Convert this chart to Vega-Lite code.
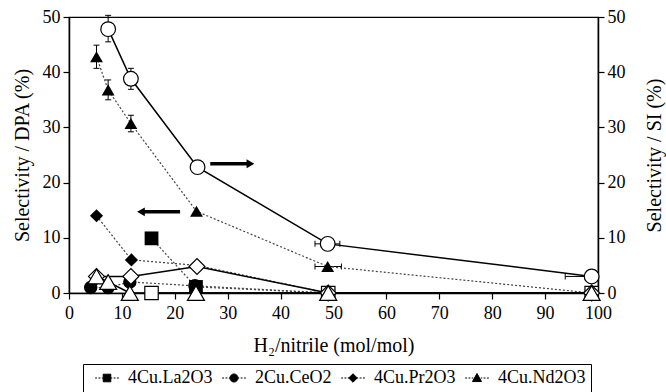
{
  "$schema": "https://vega.github.io/schema/vega-lite/v6.json",
  "width": 529,
  "height": 276,
  "autosize": "none",
  "padding": {"left": 69, "top": 17, "right": 68, "bottom": 99},
  "background": "white",
  "datasets": {
    "pts": [
      {"series": "4Cu.La2O3", "type": "DPA", "x": 15.6, "y": 9.9},
      {"series": "4Cu.La2O3", "type": "DPA", "x": 24.0, "y": 1.1},
      {"series": "4Cu.La2O3", "type": "DPA", "x": 49.0, "y": 0},
      {"series": "2Cu.CeO2", "type": "DPA", "x": 4.1, "y": 1.0},
      {"series": "2Cu.CeO2", "type": "DPA", "x": 7.4, "y": 1.0},
      {"series": "2Cu.CeO2", "type": "DPA", "x": 11.5, "y": 2.0},
      {"series": "2Cu.CeO2", "type": "DPA", "x": 23.8, "y": 1.3},
      {"series": "2Cu.CeO2", "type": "DPA", "x": 49.0, "y": 0},
      {"series": "4Cu.Pr2O3", "type": "DPA", "x": 5.2, "y": 14.0},
      {"series": "4Cu.Pr2O3", "type": "DPA", "x": 11.8, "y": 6.0},
      {"series": "4Cu.Pr2O3", "type": "DPA", "x": 24.2, "y": 5.0},
      {"series": "4Cu.Pr2O3", "type": "DPA", "x": 49.0, "y": 0},
      {"series": "4Cu.Nd2O3", "type": "DPA", "x": 5.2, "y": 42.8},
      {"series": "4Cu.Nd2O3", "type": "DPA", "x": 7.4, "y": 36.8},
      {"series": "4Cu.Nd2O3", "type": "DPA", "x": 11.7, "y": 30.7},
      {"series": "4Cu.Nd2O3", "type": "DPA", "x": 24.1, "y": 14.8},
      {"series": "4Cu.Nd2O3", "type": "DPA", "x": 48.9, "y": 4.8},
      {"series": "4Cu.Nd2O3", "type": "DPA", "x": 98.8, "y": 0},
      {"series": "4Cu.La2O3", "type": "SI", "x": 15.6, "y": 0},
      {"series": "4Cu.La2O3", "type": "SI", "x": 49.0, "y": 0},
      {"series": "4Cu.La2O3", "type": "SI", "x": 98.8, "y": 0},
      {"series": "2Cu.CeO2", "type": "SI", "x": 7.4, "y": 47.8},
      {"series": "2Cu.CeO2", "type": "SI", "x": 11.7, "y": 38.8},
      {"series": "2Cu.CeO2", "type": "SI", "x": 24.3, "y": 22.8},
      {"series": "2Cu.CeO2", "type": "SI", "x": 48.9, "y": 8.9},
      {"series": "2Cu.CeO2", "type": "SI", "x": 98.8, "y": 3.0},
      {"series": "4Cu.Pr2O3", "type": "SI", "x": 5.2, "y": 3.0},
      {"series": "4Cu.Pr2O3", "type": "SI", "x": 11.7, "y": 3.0},
      {"series": "4Cu.Pr2O3", "type": "SI", "x": 24.2, "y": 4.8},
      {"series": "4Cu.Pr2O3", "type": "SI", "x": 49.0, "y": 0},
      {"series": "4Cu.Pr2O3", "type": "SI", "x": 98.8, "y": 0},
      {"series": "4Cu.Nd2O3", "type": "SI", "x": 5.2, "y": 3.0},
      {"series": "4Cu.Nd2O3", "type": "SI", "x": 7.4, "y": 2.0},
      {"series": "4Cu.Nd2O3", "type": "SI", "x": 11.5, "y": 0},
      {"series": "4Cu.Nd2O3", "type": "SI", "x": 24.0, "y": 0},
      {"series": "4Cu.Nd2O3", "type": "SI", "x": 49.0, "y": 0},
      {"series": "4Cu.Nd2O3", "type": "SI", "x": 98.8, "y": 0}
    ],
    "errv": [
      {"x": 7.4, "lo": 45.5, "hi": 50.3},
      {"x": 5.2, "lo": 40.7, "hi": 44.9},
      {"x": 7.4, "lo": 35.0, "hi": 38.6},
      {"x": 11.7, "lo": 36.9, "hi": 40.7},
      {"x": 11.7, "lo": 29.2, "hi": 32.2}
    ],
    "errh": [
      {"y": 8.9, "lo": 46.5, "hi": 51.2},
      {"y": 4.8, "lo": 46.5, "hi": 51.5},
      {"y": 3.0, "lo": 93.8, "hi": 98.8}
    ],
    "arrows": [
      {"dir": "right", "x": 26.7, "x2": 34.3, "y": 23.4},
      {"dir": "left", "x": 13.6, "x2": 21.0, "y": 14.7}
    ]
  },
  "layer": [
    {
      "layer": [
        {
          "data": {"name": "errv"},
          "mark": {"type": "rule", "color": "black", "strokeWidth": 1},
          "encoding": {
            "x": {"field": "x", "type": "quantitative", "scale": {"domain": [0, 100], "nice": false}, "title": "H₂/nitrile (mol/mol)"},
            "y": {"field": "lo", "type": "quantitative", "scale": {"domain": [0, 50], "nice": false}, "title": "Selectivity / DPA (%)"},
            "y2": {"field": "hi"}
          }
        },
        {
          "data": {"name": "errv"},
          "mark": {"type": "tick", "orient": "horizontal", "color": "black", "size": 6, "thickness": 1, "opacity": 1},
          "encoding": {
            "x": {"field": "x", "type": "quantitative", "scale": {"domain": [0, 100], "nice": false}, "title": "H₂/nitrile (mol/mol)"},
            "y": {"field": "hi", "type": "quantitative", "scale": {"domain": [0, 50], "nice": false}, "title": "Selectivity / DPA (%)"}
          }
        },
        {
          "data": {"name": "errv"},
          "mark": {"type": "tick", "orient": "horizontal", "color": "black", "size": 6, "thickness": 1, "opacity": 1},
          "encoding": {
            "x": {"field": "x", "type": "quantitative", "scale": {"domain": [0, 100], "nice": false}, "title": "H₂/nitrile (mol/mol)"},
            "y": {"field": "lo", "type": "quantitative", "scale": {"domain": [0, 50], "nice": false}, "title": "Selectivity / DPA (%)"}
          }
        },
        {
          "data": {"name": "errh"},
          "mark": {"type": "rule", "color": "black", "strokeWidth": 1},
          "encoding": {
            "x": {"field": "lo", "type": "quantitative", "scale": {"domain": [0, 100], "nice": false}, "title": "H₂/nitrile (mol/mol)"},
            "x2": {"field": "hi"},
            "y": {"field": "y", "type": "quantitative", "scale": {"domain": [0, 50], "nice": false}, "title": "Selectivity / DPA (%)"}
          }
        },
        {
          "data": {"name": "errh"},
          "mark": {"type": "tick", "orient": "vertical", "color": "black", "size": 6, "thickness": 1, "opacity": 1},
          "encoding": {
            "x": {"field": "lo", "type": "quantitative", "scale": {"domain": [0, 100], "nice": false}, "title": "H₂/nitrile (mol/mol)"},
            "y": {"field": "y", "type": "quantitative", "scale": {"domain": [0, 50], "nice": false}, "title": "Selectivity / DPA (%)"}
          }
        },
        {
          "data": {"name": "errh"},
          "mark": {"type": "tick", "orient": "vertical", "color": "black", "size": 6, "thickness": 1, "opacity": 1},
          "encoding": {
            "x": {"field": "hi", "type": "quantitative", "scale": {"domain": [0, 100], "nice": false}, "title": "H₂/nitrile (mol/mol)"},
            "y": {"field": "y", "type": "quantitative", "scale": {"domain": [0, 50], "nice": false}, "title": "Selectivity / DPA (%)"}
          }
        },
        {
          "data": {"name": "pts"},
          "transform": [{"filter": "datum.type === 'DPA'"}],
          "mark": {"type": "line", "color": "#444", "strokeDash": [2, 2], "strokeWidth": 1.2},
          "encoding": {
            "x": {"field": "x", "type": "quantitative", "scale": {"domain": [0, 100], "nice": false}, "title": "H₂/nitrile (mol/mol)"},
            "y": {"field": "y", "type": "quantitative", "scale": {"domain": [0, 50], "nice": false}, "title": "Selectivity / DPA (%)"},
            "detail": {"field": "series"},
            "order": {"field": "x"}
          }
        },
        {
          "data": {"name": "pts"},
          "transform": [{"filter": "datum.type === 'SI'"}],
          "mark": {"type": "line", "color": "black", "strokeWidth": 1.5},
          "encoding": {
            "x": {"field": "x", "type": "quantitative", "scale": {"domain": [0, 100], "nice": false}, "title": "H₂/nitrile (mol/mol)"},
            "y": {"field": "y", "type": "quantitative", "scale": {"domain": [0, 50], "nice": false}, "title": "Selectivity / DPA (%)"},
            "detail": {"field": "series"},
            "order": {"field": "x"}
          }
        },
        {
          "data": {"name": "pts"},
          "transform": [{"filter": "datum.type === 'DPA'"}],
          "mark": {"type": "point", "filled": true, "color": "black", "opacity": 1},
          "encoding": {
            "x": {"field": "x", "type": "quantitative", "scale": {"domain": [0, 100], "nice": false}, "title": "H₂/nitrile (mol/mol)"},
            "y": {"field": "y", "type": "quantitative", "scale": {"domain": [0, 50], "nice": false}, "title": "Selectivity / DPA (%)"},
            "shape": {"field": "series", "type": "nominal", "scale": {"domain": ["4Cu.La2O3", "2Cu.CeO2", "4Cu.Pr2O3", "4Cu.Nd2O3"], "range": ["square", "circle", "diamond", "triangle-up"]}, "legend": null},
            "size": {"field": "series", "type": "nominal", "scale": {"domain": ["4Cu.La2O3", "2Cu.CeO2", "4Cu.Pr2O3", "4Cu.Nd2O3"], "range": [190, 165, 250, 260]}, "legend": null}
          }
        },
        {
          "data": {"name": "pts"},
          "transform": [{"filter": "datum.type === 'SI'"}],
          "mark": {"type": "point", "filled": true, "fill": "white", "stroke": "black", "strokeWidth": 1.2, "opacity": 1},
          "encoding": {
            "x": {"field": "x", "type": "quantitative", "scale": {"domain": [0, 100], "nice": false}, "title": "H₂/nitrile (mol/mol)"},
            "y": {"field": "y", "type": "quantitative", "scale": {"domain": [0, 50], "nice": false}, "title": "Selectivity / DPA (%)"},
            "shape": {"field": "series", "type": "nominal", "scale": {"domain": ["4Cu.La2O3", "2Cu.CeO2", "4Cu.Pr2O3", "4Cu.Nd2O3"], "range": ["square", "circle", "diamond", "triangle-up"]}, "legend": null},
            "size": {"field": "series", "type": "nominal", "scale": {"domain": ["4Cu.La2O3", "2Cu.CeO2", "4Cu.Pr2O3", "4Cu.Nd2O3"], "range": [180, 290, 260, 260]}, "legend": null}
          }
        },
        {
          "data": {"name": "arrows"},
          "mark": {"type": "rule", "color": "black", "strokeWidth": 3.5},
          "encoding": {
            "x": {"field": "x", "type": "quantitative", "scale": {"domain": [0, 100], "nice": false}, "title": "H₂/nitrile (mol/mol)"},
            "x2": {"field": "x2"},
            "y": {"field": "y", "type": "quantitative", "scale": {"domain": [0, 50], "nice": false}, "title": "Selectivity / DPA (%)"}
          }
        },
        {
          "data": {"name": "arrows"},
          "transform": [{"filter": "datum.dir === 'right'"}],
          "mark": {"type": "point", "shape": "triangle-right", "filled": true, "color": "black", "opacity": 1, "size": 80},
          "encoding": {
            "x": {"field": "x2", "type": "quantitative", "scale": {"domain": [0, 100], "nice": false}, "title": "H₂/nitrile (mol/mol)"},
            "y": {"field": "y", "type": "quantitative", "scale": {"domain": [0, 50], "nice": false}, "title": "Selectivity / DPA (%)"}
          }
        },
        {
          "data": {"name": "arrows"},
          "transform": [{"filter": "datum.dir === 'left'"}],
          "mark": {"type": "point", "shape": "triangle-left", "filled": true, "color": "black", "opacity": 1, "size": 80},
          "encoding": {
            "x": {"field": "x", "type": "quantitative", "scale": {"domain": [0, 100], "nice": false}, "title": "H₂/nitrile (mol/mol)"},
            "y": {"field": "y", "type": "quantitative", "scale": {"domain": [0, 50], "nice": false}, "title": "Selectivity / DPA (%)"}
          }
        },
        {
          "data": {"name": "pts"},
          "transform": [{"filter": "datum.type === 'DPA'"}],
          "mark": {"type": "point", "filled": true, "color": "black", "fill": "black", "stroke": "black", "strokeWidth": 1, "opacity": 0},
          "encoding": {
            "x": {"field": "x", "type": "quantitative", "scale": {"domain": [0, 100], "nice": false}, "title": "H₂/nitrile (mol/mol)"},
            "y": {"field": "y", "type": "quantitative", "scale": {"domain": [0, 50], "nice": false}, "title": "Selectivity / DPA (%)"},
            "shape": {
              "field": "series",
              "type": "nominal",
              "scale": {
                "domain": ["4Cu.La2O3", "2Cu.CeO2", "4Cu.Pr2O3", "4Cu.Nd2O3"],
                "range": [
                  "M-2.5,0H-2.1M-1.8,0H-1.4M-1.1,0H-0.8M0.8,0H1.1M1.4,0H1.8M2.1,0H2.5M-0.8,-0.8H0.8V0.8H-0.8Z",
                  "M-2.5,0H-2.1M-1.8,0H-1.4M-1.1,0H-0.8M0.8,0H1.1M1.4,0H1.8M2.1,0H2.5M-0.85,0A0.85,0.85,0,1,1,0.85,0A0.85,0.85,0,1,1,-0.85,0Z",
                  "M-2.5,0H-2.1M-1.8,0H-1.4M-1.1,0H-0.8M0.8,0H1.1M1.4,0H1.8M2.1,0H2.5M-0.9,0L0,-0.9L0.9,0L0,0.9Z",
                  "M-2.5,0H-2.1M-1.8,0H-1.4M-1.1,0H-0.8M0.8,0H1.1M1.4,0H1.8M2.1,0H2.5M0,-0.95L0.95,0.75H-0.95Z"
                ]
              },
              "legend": {
                "title": null,
                "orient": "none",
                "legendX": 14,
                "legendY": 347,
                "direction": "horizontal",
                "columns": 4,
                "strokeColor": "black",
                "padding": 5,
                "symbolSize": 90,
                "symbolOffset": 10,
                "labelOffset": 12,
                "columnPadding": 2,
                "labelFont": "Liberation Serif",
                "labelFontSize": 18,
                "labelColor": "black",
                "symbolFillColor": "black",
                "symbolStrokeColor": "black",
                "symbolStrokeWidth": 1,
                "symbolOpacity": 1,
                "encoding": {"symbols": {"opacity": {"value": 1}, "fill": {"value": "black"}, "stroke": {"value": "black"}, "strokeWidth": {"value": 1}}}
              }
            }
          }
        }
      ],
      "resolve": {"scale": {"shape": "independent", "size": "independent"}}
    },
    {
      "data": {"name": "pts"},
      "mark": {"type": "point", "opacity": 0},
      "encoding": {
        "x": {"field": "x", "type": "quantitative", "scale": {"domain": [0, 100], "nice": false}, "title": "H₂/nitrile (mol/mol)"},
        "y": {"field": "y", "type": "quantitative", "scale": {"domain": [0, 50], "nice": false}, "title": "Selectivity / SI (%)", "axis": {"orient": "right", "titleAngle": 270, "titleX": 56, "titleY": 138, "titleAlign": "center", "titleBaseline": "middle"}}
      }
    }
  ],
  "resolve": {"scale": {"y": "independent"}},
  "config": {
    "font": "Liberation Serif",
    "view": {"stroke": "black", "strokeWidth": 1.2},
    "axis": {
      "grid": false,
      "domainColor": "black",
      "domainWidth": 1.5,
      "tickColor": "black",
      "tickSize": 6,
      "tickWidth": 1.2,
      "labelColor": "black",
      "labelFont": "Liberation Serif",
      "labelFontSize": 18,
      "labelPadding": 3,
      "labelFlush": false,
      "titleFont": "Liberation Serif",
      "titleFontSize": 20,
      "titleFontWeight": "normal",
      "titleColor": "black"
    },
    "axisX": {"tickCount": 10, "labelPadding": 5, "titlePadding": 13},
    "axisY": {"tickCount": 5, "titlePadding": 10},
    "legend": {"labelFont": "Liberation Serif"}
  }
}
